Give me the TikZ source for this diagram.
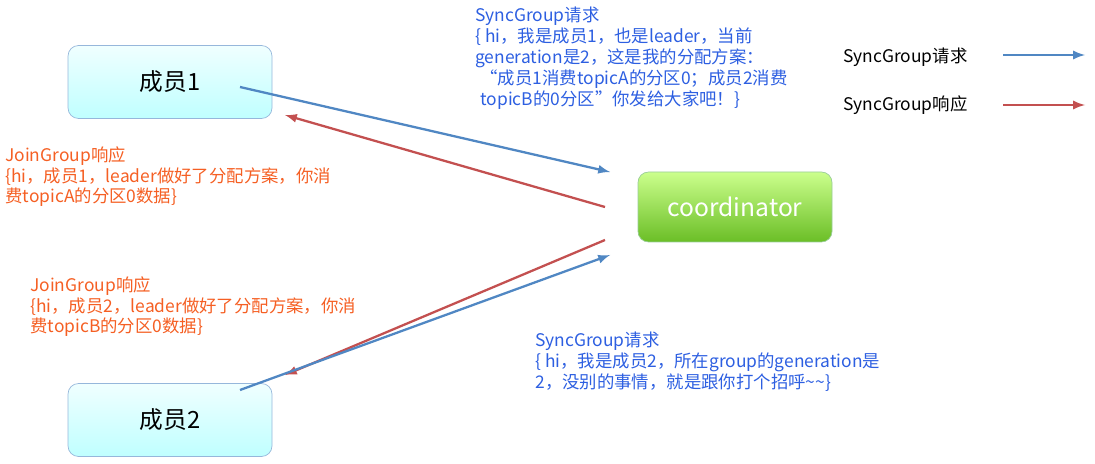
\documentclass[tikz,border=0pt]{standalone}
\usepackage{fontspec}
\setmainfont{Noto Sans CJK SC}
\usepackage{tikz}
\usetikzlibrary{positioning}
\definecolor{reqblue}{RGB}{80,135,195}
\definecolor{resred}{RGB}{195,80,80}
\definecolor{txtblue}{RGB}{45,95,225}
\definecolor{txtred}{RGB}{245,95,35}
\tikzset{
  member/.style={draw=reqblue!60,rounded corners=6pt,minimum width=4.08cm,minimum height=1.46cm,
    top color=cyan!6,bottom color=cyan!25,font=\fontsize{13.5}{16}\selectfont},
  coord/.style={draw=green!50!black!40,rounded corners=6pt,minimum width=3.88cm,minimum height=1.4cm,
    top color=green!45!yellow!45,bottom color=green!55!yellow!70!black!85,text=white,font=\fontsize{14}{16}\selectfont},
  req/.style={draw=reqblue,line width=1.3pt,-latex},
  res/.style={draw=resred,line width=1.3pt,-latex},
  msg/.style={align=left,anchor=north west,inner sep=0pt,font=\fontsize{9.9}{11.9}\selectfont},
}
\begin{document}
\begin{tikzpicture}
  \useasboundingbox (0,0) rectangle (21.9,9.26);
  \node[member] (m1) at (3.4,7.62) {成员1};
  \node[member] (m2) at (3.4,0.86) {成员2};
  \node[coord] (co) at (14.7,5.12) {coordinator};
  % arrow end points
  \path[coordinate] (4.8,7.52) coordinate(a1)
    (12.2,5.82) coordinate(b1)
    (12.1,5.12) coordinate(a2)
    (5.7,6.96) coordinate(b2)
    (12.1,4.46) coordinate(a3)
    (5.7,1.76) coordinate(b3)
    (4.8,1.46) coordinate(a4)
    (12.2,4.16) coordinate(b4);
  \draw[req] (a1) -- (b1);
  \draw[res] (a2) -- (b2);
  \draw[res] (a3) -- (b3);
  \draw[req] (a4) -- (b4);
  % messages
  \node[msg,text=txtblue] (t1) at (9.5,9.12) {SyncGroup请求\\\{ hi，我是成员1，也是leader，当前\\generation是2，这是我的分配方案：\\\hspace{0.3em}“成员1消费topicA的分区0；成员2消费\\\hspace{0.3em}topicB的0分区”你发给大家吧！\}};
  \node[msg,text=txtred] (t2) at (0.1,6.34) {JoinGroup响应\\\{hi，成员1，leader做好了分配方案，你消\\费topicA的分区0数据\}};
  \node[msg,text=txtred] (t3) at (0.6,3.74) {JoinGroup响应\\\{hi，成员2，leader做好了分配方案，你消\\费topicB的分区0数据\}};
  \node[msg,text=txtblue] (t4) at (10.7,2.62) {SyncGroup请求\\\{ hi，我是成员2，所在group的generation是\\2，没别的事情，就是跟你打个招呼\textasciitilde\textasciitilde\}};
  % legend
  \node[anchor=west,inner sep=0pt,font=\fontsize{9.9}{11}\selectfont] (l1) at (16.86,8.12) {SyncGroup请求};
  \node[anchor=west,inner sep=0pt,font=\fontsize{9.9}{11}\selectfont] (l2) at (16.86,7.16) {SyncGroup响应};
  \path[coordinate] (20.06,8.16) coordinate(la) (21.7,8.16) coordinate(lb)
    (20.06,7.16) coordinate(lc) (21.7,7.16) coordinate(ld);
  \draw[req] (la) -- (lb);
  \draw[res] (lc) -- (ld);
\end{tikzpicture}
\end{document}
